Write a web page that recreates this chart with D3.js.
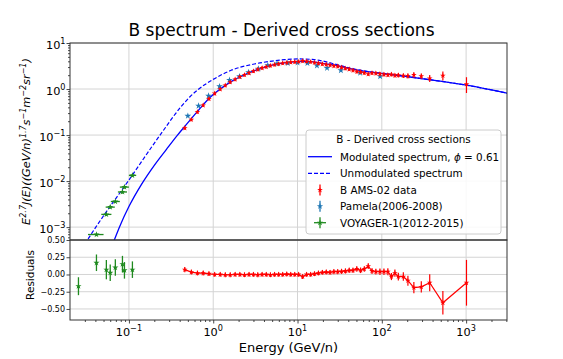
<!DOCTYPE html>
<html><head><meta charset="utf-8">
<script src="https://cdn.jsdelivr.net/npm/d3@7"></script>
<style>body{margin:0;background:#fff}svg{display:block;font-family:"DejaVu Sans",sans-serif}</style>
</head><body><svg id="c" width="563" height="359"></svg>
<script>
// ---------------- DATA ----------------
const titleText = "B spectrum - Derived cross sections";
const legendTitle = "B - Derived cross sections";
const phiValue = "0.61";

// Modulated spectrum (solid)
const modE = [0.062,0.068,0.078,0.1,0.141,0.2,0.28,0.375,0.457,0.69,0.85,1.0,1.3,1.63,2.0,2.57,3.53,5,7,10,13,20,30,50,100,128,316,1013,3100];
const modV = [3.6e-4,5.6e-4,1.05e-3,2.8e-3,8.5e-3,2.2e-2,4.95e-2,0.0984,0.152,0.37,0.57,0.76,1.10,1.45,1.78,2.18,2.75,3.30,3.70,3.93,3.98,3.60,3.20,2.60,2.18,2.07,1.66,1.21,0.81];
// Unmodulated spectrum (dashed)
const unE = [0.03,0.0405,0.098,0.243,0.418,0.53,0.66,1.0,1.63,3.08,5,7,10,15,20,30,50,100,128,316,1013,3100];
const unV = [4.3e-4,1.0e-3,1.0e-2,0.11,0.42,0.68,0.97,1.62,2.55,3.5,4.05,4.35,4.5,4.4,4.05,3.35,2.65,2.2,2.07,1.66,1.21,0.81];

// AMS-02 boron
const amsE = [0.46,0.55,0.65,0.76,0.89,1.04,1.21,1.39,1.59,1.82,2.07,2.35,2.66,3.00,3.38,3.80,4.26,4.77,5.34,5.97,6.67,7.45,8.31,9.27,10.3,11.5,12.8,14.3,15.9,17.7,19.7,21.9,24.3,27.0,30.0,33.3,37.0,41.0,45.5,50.5,56.0,62.0,69.0,76.5,85,95,106,118,130,143,157,180,204,240,294,370,530,1010];
const amsV = [0.142,0.217,0.318,0.443,0.613,0.80,0.99,1.20,1.41,1.62,1.83,2.03,2.23,2.44,2.66,2.86,3.03,3.22,3.38,3.51,3.64,3.74,3.81,3.88,3.94,4.07,3.98,3.89,3.75,3.63,3.50,3.40,3.30,3.17,3.11,2.95,2.80,2.69,2.54,2.40,2.36,2.25,2.10,2.22,2.19,2.13,2.07,2.02,2.08,1.97,2.00,1.95,1.92,2.02,1.90,1.70,1.95,1.28];
const amsRes = [0.07,0.035,0.02,0.02,0.01,0.0,0.0,-0.005,-0.005,0,0,-0.005,0,0,-0.005,0,0,-0.005,0,0,0,0.005,0,0,0,-0.03,0,0,0.01,0.02,0.03,0.035,0.03,0.04,0.04,0.045,0.05,0.06,0.06,0.08,0.06,0.08,0.12,0.05,0.04,0.04,0.04,0.04,-0.03,0.02,-0.03,-0.03,-0.09,-0.19,-0.18,-0.12,-0.41,-0.12];
const amsErr = [0.015,0.012,0.012,0.012,0.012,0.012,0.012,0.012,0.012,0.012,0.012,0.012,0.012,0.012,0.012,0.012,0.012,0.012,0.012,0.012,0.012,0.012,0.012,0.012,0.012,0.012,0.012,0.012,0.012,0.012,0.012,0.012,0.012,0.015,0.015,0.015,0.015,0.015,0.015,0.018,0.018,0.018,0.02,0.02,0.02,0.025,0.025,0.03,0.03,0.03,0.035,0.04,0.05,0.06,0.06,0.10,0.15,0.31];

// PAMELA (2006-2008)
const pamE = [0.50,0.67,0.88,1.19,1.56,2.05,2.62,3.44,4.44,5.72,7.66,10.0,13.1,17.0,22.4,32.7,55.3,95.5];
const pamV = [0.26,0.43,0.71,1.14,1.56,1.88,2.30,2.76,3.26,3.55,3.67,3.73,3.67,3.24,2.86,2.54,2.23,1.88];

// VOYAGER-1 (2012-2015)
const vgE  = [0.0252,0.0412,0.054,0.060,0.069,0.0838,0.0885,0.11];
const vgLo = [0.022,0.0327,0.047,0.053,0.061,0.074,0.078,0.100];
const vgHi = [0.029,0.050,0.062,0.068,0.078,0.095,0.100,0.122];
const vgV  = [2.4e-4,6.9e-4,1.89e-3,2.72e-3,3.6e-3,5.8e-3,7.4e-3,0.0133];
const vgRes = [-0.17,0.17,0.07,0.025,0.10,0.15,0.06,0.07];
const vgResErr = [0.13,0.12,0.14,0.12,0.12,0.12,0.12,0.12];

const xMajor = [0.1,1,10,100,1000];
const xMajorExp = ["−1","0","1","2","3"];
const yMajor = [1e-3,1e-2,1e-1,1,10];
const yMajorExp = ["−3","−2","−1","0","1"];
const resTicks = [0.5,0.25,0,-0.25,-0.5];
const resTickLabels = ["0.50","0.25","0.00","−0.25","−0.50"];

// ---------------- LAYOUT ----------------
const svg = d3.select("#c");
const L=70, R=507, T=43, MB=240, RB=320;
const x = d3.scaleLog().domain([0.02,3055]).range([L,R]);
const y = d3.scaleLog().domain([5.25e-4,10]).range([MB,T]);
const yr = d3.scaleLinear().domain([-0.66,0.5]).range([RB,MB]);

const RED="#ff0000", BLUE="#0000ff", PAM="#1f77b4", GRN="#1f8a1f", GRID="#d4d4d4", SPINE="#333";

const defs = svg.append("defs");
defs.append("clipPath").attr("id","cm").append("rect").attr("x",L).attr("y",T).attr("width",R-L).attr("height",MB-T);
defs.append("clipPath").attr("id","cr").append("rect").attr("x",L).attr("y",MB).attr("width",R-L).attr("height",RB-MB);

// grids
const grid = svg.append("g").attr("stroke",GRID).attr("stroke-width",1);
xMajor.forEach(v=>{ grid.append("line").attr("x1",x(v)).attr("x2",x(v)).attr("y1",T).attr("y2",RB); });
yMajor.forEach(v=>{ grid.append("line").attr("x1",L).attr("x2",R).attr("y1",y(v)).attr("y2",y(v)); });
resTicks.forEach(v=>{ grid.append("line").attr("x1",L).attr("x2",R).attr("y1",yr(v)).attr("y2",yr(v)); });

// minor tick values
const minorX=[], minorY=[];
[0.01,0.1,1,10,100,1000].forEach(d=>{ for(let k=2;k<10;k++){ const v=d*k; if(v>0.02&&v<3055) minorX.push(v);} });
[1e-4,1e-3,1e-2,1e-1,1].forEach(d=>{ for(let k=2;k<10;k++){ const v=d*k; if(v>5.25e-4&&v<10) minorY.push(v);} });

// axes ticks
function tickAxis(axis, tr){
  const g = svg.append("g").attr("transform",tr).call(axis);
  g.select(".domain").remove();
  g.selectAll("line").attr("stroke",SPINE).attr("stroke-width",0.9);
  return g;
}
tickAxis(d3.axisLeft(y).tickValues(yMajor).tickSize(3.5).tickFormat(""),`translate(${L},0)`);
tickAxis(d3.axisLeft(y).tickValues(minorY).tickSize(2).tickFormat(""),`translate(${L},0)`);
tickAxis(d3.axisLeft(yr).tickValues(resTicks).tickSize(3.5).tickFormat(""),`translate(${L},0)`);
tickAxis(d3.axisBottom(x).tickValues(xMajor).tickSize(3.5).tickFormat(""),`translate(0,${RB})`);
tickAxis(d3.axisBottom(x).tickValues(minorX).tickSize(2).tickFormat(""),`translate(0,${RB})`);

// tick labels
function powLabel(px, py, exp, anchor, fs){
  const t = svg.append("text").attr("x",px).attr("y",py).attr("text-anchor",anchor)
    .attr("font-size",fs).attr("fill","#000");
  t.append("tspan").text("10");
  t.append("tspan").attr("dy",-fs*0.42).attr("font-size",fs*0.72).text(exp);
}
yMajor.forEach((v,i)=>powLabel(L-4.5, y(v)+6, yMajorExp[i], "end", 11.3));
xMajor.forEach((v,i)=>powLabel(x(v), RB+16, xMajorExp[i], "middle", 11.3));
resTicks.forEach((v,i)=>{
  svg.append("text").attr("x",L-5).attr("y",yr(v)+2.8).attr("text-anchor","end")
    .attr("font-size",8).text(resTickLabels[i]);
});

// ---------------- CURVES ----------------
const mainG = svg.append("g").attr("clip-path","url(#cm)");
const lineGen = d3.line().x(d=>x(d[0])).y(d=>y(d[1])).curve(d3.curveMonotoneX);
mainG.append("path").datum(d3.zip(modE,modV)).attr("d",lineGen)
  .attr("fill","none").attr("stroke",BLUE).attr("stroke-width",1.3);
mainG.append("path").datum(d3.zip(unE,unV)).attr("d",lineGen)
  .attr("fill","none").attr("stroke",BLUE).attr("stroke-width",1.2).attr("stroke-dasharray","4,2");

const star = s => d3.symbol().type(d3.symbolStar).size(s)();

// Voyager main
vgE.forEach((e,i)=>{
  const cx=x(e), cy=y(vgV[i]);
  mainG.append("line").attr("x1",x(vgLo[i])).attr("x2",x(vgHi[i])).attr("y1",cy).attr("y2",cy).attr("stroke",GRN).attr("stroke-width",1.3);
  mainG.append("line").attr("x1",cx).attr("x2",cx).attr("y1",y(vgV[i]*1.08)).attr("y2",y(vgV[i]/1.08)).attr("stroke",GRN).attr("stroke-width",1.3);
  mainG.append("path").attr("d",star(12)).attr("transform",`translate(${cx},${cy})`).attr("fill",GRN);
});
// Pamela
pamE.forEach((e,i)=>{
  const cx=x(e), cy=y(pamV[i]);
  mainG.append("line").attr("x1",cx).attr("x2",cx).attr("y1",y(pamV[i]*1.04)).attr("y2",y(pamV[i]/1.04)).attr("stroke",PAM).attr("stroke-width",1.2);
  mainG.append("path").attr("d",star(14)).attr("transform",`translate(${cx},${cy})`).attr("fill",PAM);
});
// AMS main
amsE.forEach((e,i)=>{
  const cx=x(e), cy=y(amsV[i]);
  mainG.append("line").attr("x1",cx).attr("x2",cx).attr("y1",y(amsV[i]*(1+amsErr[i]))-1.5).attr("y2",y(amsV[i]*(1-amsErr[i]))+1.5).attr("stroke",RED).attr("stroke-width",1.2);
  mainG.append("path").attr("d",star(10)).attr("transform",`translate(${cx},${cy})`).attr("fill",RED);
});

// ---------------- RESIDUALS ----------------
const resG = svg.append("g").attr("clip-path","url(#cr)");
resG.append("path").datum(d3.zip(amsE,amsRes))
  .attr("d",d3.line().x(d=>x(d[0])).y(d=>yr(d[1])))
  .attr("fill","none").attr("stroke",RED).attr("stroke-width",1.2);
amsE.forEach((e,i)=>{
  const cx=x(e), cy=yr(amsRes[i]);
  resG.append("line").attr("x1",cx).attr("x2",cx).attr("y1",yr(amsRes[i]+amsErr[i])-1.5).attr("y2",yr(amsRes[i]-amsErr[i])+1.5).attr("stroke",RED).attr("stroke-width",1.2);
  resG.append("path").attr("d",star(10)).attr("transform",`translate(${cx},${cy})`).attr("fill",RED);
});
vgE.forEach((e,i)=>{
  const cx=x(e), cy=yr(vgRes[i]);
  resG.append("line").attr("x1",cx).attr("x2",cx).attr("y1",yr(vgRes[i]+vgResErr[i])).attr("y2",yr(vgRes[i]-vgResErr[i])).attr("stroke",GRN).attr("stroke-width",1.3);
  resG.append("path").attr("d",star(12)).attr("transform",`translate(${cx},${cy})`).attr("fill",GRN);
});

// ---------------- SPINES ----------------
const sp = svg.append("g").attr("stroke",SPINE).attr("stroke-width",1).attr("fill","none");
sp.append("rect").attr("x",L).attr("y",T).attr("width",R-L).attr("height",MB-T);
sp.append("rect").attr("x",L).attr("y",MB).attr("width",R-L).attr("height",RB-MB);

// ---------------- LEGEND ----------------
const lg = svg.append("g");
const LX=306, LY=130, LW=195, LH=104;
lg.append("rect").attr("x",LX).attr("y",LY).attr("width",LW).attr("height",LH).attr("rx",3)
  .attr("fill","#fff").attr("fill-opacity",0.85).attr("stroke","#cccccc").attr("stroke-width",1);
const lfs=10.4;
lg.append("text").attr("x",LX+LW/2).attr("y",LY+13).attr("text-anchor","middle").attr("font-size",lfs).text(legendTitle);
const rows=[156.7,173.3,190,206.3,222.7];
const hx1=308, hx2=332, hc=320, tx=340;
lg.append("line").attr("x1",hx1).attr("x2",hx2).attr("y1",rows[0]).attr("y2",rows[0]).attr("stroke",BLUE).attr("stroke-width",1.3);
lg.append("line").attr("x1",hx1).attr("x2",hx2).attr("y1",rows[1]).attr("y2",rows[1]).attr("stroke",BLUE).attr("stroke-width",1.2).attr("stroke-dasharray","4,2");
function errHandle(ry,col,xbar,sz){
  if(xbar) lg.append("line").attr("x1",hc-6).attr("x2",hc+6).attr("y1",ry).attr("y2",ry).attr("stroke",col).attr("stroke-width",1.3);
  lg.append("line").attr("x1",hc).attr("x2",hc).attr("y1",ry-5.5).attr("y2",ry+5.5).attr("stroke",col).attr("stroke-width",1.3);
  lg.append("path").attr("d",star(sz)).attr("transform",`translate(${hc},${ry})`).attr("fill",col);
}
errHandle(rows[2],RED,false,10);
errHandle(rows[3],PAM,false,12);
errHandle(rows[4],GRN,true,12);
const t0 = lg.append("text").attr("x",tx).attr("y",rows[0]+3.8).attr("font-size",lfs);
t0.append("tspan").text("Modulated spectrum, ");
t0.append("tspan").attr("font-style","italic").text("ϕ");
t0.append("tspan").text(" = " + phiValue);
["Unmodulated spectrum","B AMS-02 data","Pamela(2006-2008)","VOYAGER-1(2012-2015)"].forEach((s,i)=>{
  lg.append("text").attr("x",tx).attr("y",rows[i+1]+3.8).attr("font-size",lfs).text(s);
});

// ---------------- TITLES ----------------
svg.append("text").attr("x",281.5).attr("y",36).attr("text-anchor","middle").attr("font-size",17).text(titleText);
svg.append("text").attr("x",288.5).attr("y",351.5).attr("text-anchor","middle").attr("font-size",13).text("Energy (GeV/n)");

// y label (mathtext-like, italic)
const yl = svg.append("text").attr("transform",`translate(30,${(T+MB)/2}) rotate(-90)`)
  .attr("text-anchor","middle").attr("font-size",11.3).attr("font-style","italic");
const parts = [["E",0],["2.7",1],["J(E)((GeV/n)",0],["1.7",1],["s",0],["−1",1],["m",0],["−2",1],["sr",0],["−1",1],[")",0]];
let up=false;
parts.forEach(([s,sup])=>{
  const ts = yl.append("tspan").text(s);
  if(sup && !up){ ts.attr("dy",-4.5).attr("font-size",8); up=true; }
  else if(sup){ ts.attr("font-size",8); }
  else if(!sup && up){ ts.attr("dy",4.5); up=false; }
});
svg.append("text").attr("transform",`translate(34,275) rotate(-90)`).attr("text-anchor","middle")
  .attr("font-size",10.5).text("Residuals");
</script></body></html>
